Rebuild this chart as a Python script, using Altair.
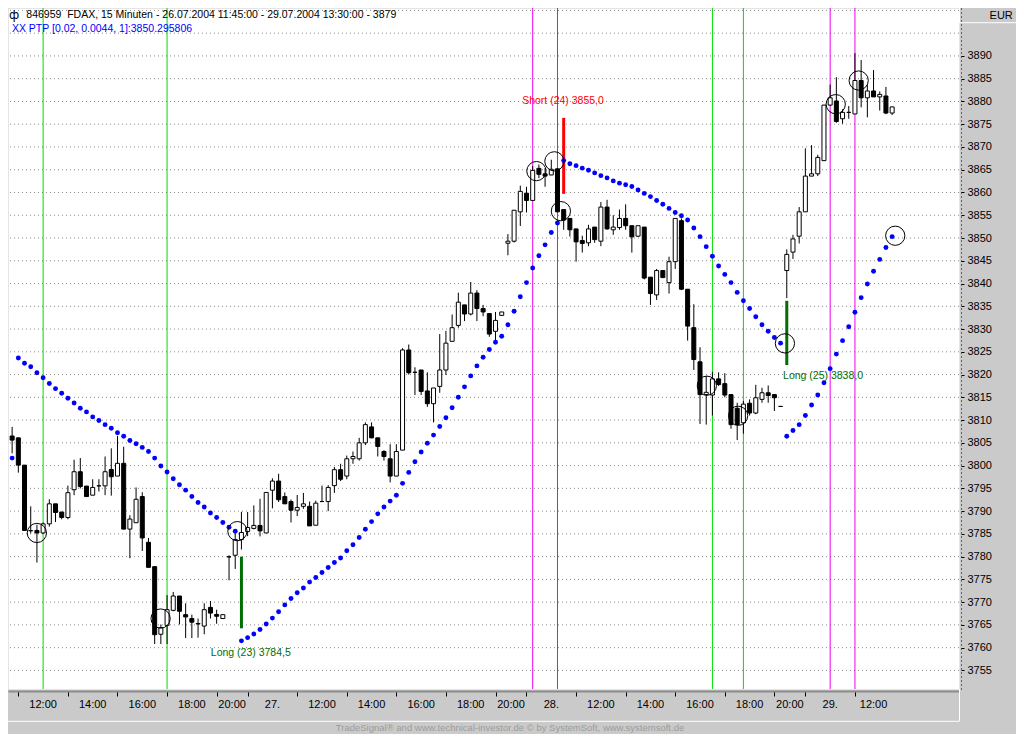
import altair as alt
import pandas as pd

FONT = "Liberation Sans"

# ---------------- data ----------------
opens = [
    3806.5, 3806.1, 3800.1, 3785.7, 3785.75, 3785.2, 3787.2, 3791.6, 3789.8, 3788.6,
    3794.7, 3798.65, 3795.5, 3793.5, 3795.55, 3795.55, 3799.15, 3797.7, 3800.5, 3786.05,
    3787.45, 3793.2, 3783.15, 3777.8, 3762.95, 3764.9, 3768.2, 3771.35, 3767.25, 3766.4,
    3765.3, 3764.75, 3768.85, 3767.3, 3766.4, 3779.95, 3780.3, 3783.75, 3785.5, 3786.2,
    3786.85, 3785.2, 3794.6, 3796.6, 3793.2, 3792.1, 3790.2, 3791.05, 3791.05, 3786.9,
    3792.1, 3792.1, 3795.6, 3799.1, 3797.7, 3801.5, 3801.5, 3805.0, 3808.5, 3806.1,
    3803.1, 3801.5, 3797.7, 3803.4, 3825.4, 3820.5, 3821.0, 3816.4, 3813.6, 3817.4,
    3821.0, 3827.3, 3830.8, 3835.3, 3833.3, 3837.9, 3834.5, 3833.4, 3829.5, 3833.0,
    3848.85, 3849.3, 3855.75, 3859.85, 3858.25, 3865.3, 3864.1, 3863.85, 3865.2, 3856.25,
    3854.3, 3852.0, 3849.45, 3848.95, 3852.4, 3849.3, 3856.8, 3851.8, 3852.3, 3854.3,
    3852.7, 3850.4, 3852.4, 3841.4, 3837.5, 3842.85, 3840.2, 3844.8, 3853.8, 3838.75,
    3830.3, 3822.8, 3815.6, 3815.5, 3819.05, 3818.0, 3815.6, 3812.6, 3809.4, 3813.7,
    3811.55, 3814.55, 3816.0, 3815.6, 3813.0, 3842.85, 3846.9, 3850.4, 3855.75, 3863.6,
    3864.1, 3867.0, 3879.2, 3880.1, 3876.2, 3877.6, 3877.25, 3884.6, 3880.8, 3882.3,
    3881.0, 3881.2, 3877.45,
]
highs = [
    3808.5, 3806.1, 3800.1, 3791.05, 3787.0, 3787.5, 3792.6, 3791.6, 3789.8, 3795.6,
    3801.3, 3801.65, 3795.5, 3797.0, 3797.0, 3802.0, 3803.8, 3806.5, 3804.15, 3789.1,
    3795.2, 3794.15, 3784.1, 3777.8, 3765.1, 3771.55, 3772.25, 3771.35, 3769.75, 3767.25,
    3766.4, 3769.75, 3770.25, 3768.35, 3767.25, 3780.3, 3785.5, 3789.85, 3789.8, 3791.25,
    3792.7, 3794.1, 3797.2, 3798.2, 3794.1, 3792.55, 3793.55, 3794.0, 3792.1, 3792.3,
    3795.6, 3795.7, 3799.7, 3800.4, 3802.2, 3803.1, 3806.1, 3809.5, 3809.5, 3806.1,
    3803.4, 3804.7, 3804.7, 3825.8, 3826.6, 3821.6, 3821.0, 3820.5, 3817.05, 3828.9,
    3829.6, 3833.2, 3838.0, 3835.3, 3840.35, 3838.55, 3835.3, 3833.4, 3833.75, 3833.75,
    3850.85, 3856.1, 3861.5, 3861.25, 3865.8, 3866.15, 3865.4, 3867.2, 3865.4, 3856.25,
    3854.3, 3852.0, 3850.5, 3852.9, 3852.4, 3857.9, 3858.4, 3855.0, 3856.25, 3857.4,
    3852.7, 3852.7, 3852.4, 3841.4, 3843.2, 3842.85, 3845.9, 3854.3, 3854.3, 3838.75,
    3835.45, 3826.0, 3819.7, 3820.6, 3820.5, 3820.3, 3815.6, 3813.8, 3814.2, 3814.55,
    3817.75, 3817.1, 3817.6, 3815.6, 3813.0, 3847.5, 3850.7, 3856.8, 3869.7, 3870.4,
    3868.3, 3879.2, 3883.7, 3885.35, 3878.3, 3879.0, 3890.6, 3889.1, 3883.7, 3886.9,
    3882.2, 3883.2, 3878.8,
]
lows = [
    3802.7, 3798.45, 3785.7, 3785.1, 3778.7, 3785.0, 3786.6, 3787.6, 3788.2, 3788.2,
    3793.5, 3795.0, 3793.2, 3793.5, 3794.3, 3793.5, 3793.4, 3797.7, 3786.0, 3779.65,
    3787.45, 3781.25, 3777.65, 3760.8, 3760.8, 3760.8, 3768.0, 3765.1, 3762.1, 3762.1,
    3762.2, 3762.95, 3766.4, 3765.25, 3766.4, 3774.8, 3777.3, 3781.55, 3784.5, 3786.0,
    3784.45, 3785.2, 3790.6, 3792.0, 3791.6, 3787.5, 3788.9, 3790.5, 3786.75, 3786.9,
    3792.1, 3790.0, 3794.0, 3796.6, 3797.0, 3800.4, 3801.1, 3804.5, 3806.0, 3802.0,
    3801.1, 3796.3, 3797.7, 3803.4, 3820.0, 3815.5, 3815.5, 3812.9, 3809.5, 3816.0,
    3819.9, 3827.3, 3830.3, 3831.75, 3833.0, 3831.75, 3832.8, 3828.3, 3827.5, 3833.0,
    3846.2, 3849.0, 3852.65, 3855.6, 3858.25, 3863.15, 3861.25, 3863.8, 3855.75, 3851.8,
    3850.3, 3844.8, 3846.8, 3848.2, 3848.95, 3848.2, 3851.8, 3850.7, 3851.8, 3851.8,
    3846.8, 3850.25, 3840.9, 3835.3, 3836.4, 3841.3, 3837.8, 3843.2, 3838.55, 3827.45,
    3821.0, 3809.15, 3809.0, 3811.0, 3817.5, 3815.0, 3808.1, 3805.6, 3807.0, 3811.0,
    3811.3, 3813.8, 3813.8, 3812.0, 3813.0, 3836.8, 3845.4, 3848.8, 3855.75, 3863.6,
    3863.6, 3867.0, 3879.0, 3875.3, 3875.1, 3876.2, 3877.25, 3878.7, 3876.5, 3881.0,
    3878.0, 3877.2, 3877.0,
]
closes = [
    3805.6, 3800.1, 3785.75, 3785.7, 3785.2, 3787.2, 3791.6, 3789.7, 3788.6, 3794.05,
    3798.65, 3795.4, 3793.2, 3795.2, 3795.55, 3798.65, 3797.55, 3800.5, 3786.05, 3788.25,
    3792.6, 3784.1, 3777.65, 3762.85, 3764.4, 3768.35, 3771.35, 3768.0, 3766.75, 3765.6,
    3765.2, 3768.35, 3767.6, 3766.9, 3767.25, 3779.95, 3783.75, 3785.3, 3786.4, 3786.85,
    3785.65, 3794.1, 3796.6, 3792.5, 3791.6, 3790.2, 3790.8, 3791.6, 3786.75, 3791.75,
    3792.1, 3795.2, 3799.1, 3797.0, 3801.5, 3802.0, 3805.0, 3809.0, 3806.1, 3804.2,
    3802.0, 3797.7, 3803.1, 3825.4, 3820.4, 3820.5, 3816.3, 3813.6, 3817.05, 3821.0,
    3826.9, 3830.3, 3835.9, 3833.3, 3837.9, 3834.5, 3833.75, 3828.9, 3831.9, 3833.75,
    3849.3, 3856.1, 3860.25, 3858.25, 3864.85, 3864.0, 3863.6, 3865.1, 3855.75, 3853.95,
    3851.8, 3849.15, 3848.8, 3852.0, 3849.65, 3856.8, 3852.0, 3852.4, 3854.3, 3852.7,
    3850.25, 3852.7, 3841.2, 3837.8, 3842.85, 3841.3, 3844.8, 3854.3, 3838.75, 3830.65,
    3823.3, 3815.6, 3816.1, 3819.05, 3817.8, 3815.5, 3809.0, 3809.0, 3813.5, 3811.55,
    3814.9, 3816.0, 3815.4, 3814.9, 3813.0, 3846.4, 3849.8, 3855.75, 3863.6, 3864.1,
    3867.7, 3879.2, 3880.8, 3875.6, 3877.6, 3877.6, 3884.6, 3880.8, 3882.3, 3881.0,
    3881.55, 3877.45, 3878.8,
]
# PTP (parabolic stop) value per bar
ptp = [
    3801.65, 3823.65, 3822.5, 3821.7, 3820.4, 3819.3, 3818.05, 3816.9, 3815.9, 3814.8,
    3813.75, 3812.6, 3811.8, 3810.7, 3809.9, 3809.0, 3808.2, 3807.2, 3806.45, 3805.5,
    3804.8, 3804.0, 3803.1, 3801.65, 3799.9, 3798.6, 3797.1, 3795.8, 3794.6, 3793.2,
    3791.9, 3790.9, 3789.6, 3788.6, 3787.5, 3786.45, 3785.6, 3761.5, 3762.2, 3763.0,
    3764.0, 3765.2, 3766.5, 3767.9, 3769.4, 3770.8, 3772.05, 3773.1, 3774.4, 3775.4,
    3776.5, 3777.6, 3778.7, 3779.7, 3781.3, 3782.6, 3784.2, 3786.0, 3787.7, 3789.4,
    3790.9, 3792.2, 3793.5, 3796.1, 3798.5, 3800.85, 3803.0, 3804.9, 3806.7, 3808.6,
    3810.5, 3812.7, 3815.0, 3817.3, 3819.7, 3821.9, 3823.8, 3825.5, 3827.1, 3828.4,
    3830.95, 3833.9, 3837.1, 3840.2, 3843.4, 3846.1, 3848.5, 3851.2, 3853.3, 3867.0,
    3866.3, 3865.9, 3865.35, 3864.9, 3864.3, 3863.7, 3863.2, 3862.55, 3862.05, 3861.7,
    3861.3, 3860.55, 3859.8, 3859.1, 3858.25, 3857.4, 3856.5, 3855.6, 3854.9, 3853.95,
    3852.2, 3850.3, 3848.1, 3846.0, 3843.85, 3842.0, 3840.2, 3838.05, 3836.2, 3834.5,
    3832.7, 3830.95, 3829.5, 3828.15, 3826.9, 3806.45, 3807.7, 3809.0, 3811.0, 3813.3,
    3815.5, 3818.2, 3821.3, 3824.5, 3827.45, 3830.5, 3833.7, 3836.9, 3839.9, 3842.7,
    3845.3, 3847.9, 3850.3,
]

grid_levels = list(range(3755, 3905, 5))
axis_levels = list(range(3755, 3895, 5))

tick_bars = [1, 9, 17, 25, 33, 38, 46, 54, 62, 70, 78, 83, 91, 99, 107, 115, 123, 128, 136]
tick_labels = ["12:00", "14:00", "16:00", "18:00", "20:00", "27.",
               "12:00", "14:00", "16:00", "18:00", "20:00", "28.",
               "12:00", "14:00", "16:00", "18:00", "20:00", "29.", "12:00"]

green_line_bars = [5, 25, 113, 118]
magenta_line_bars = [84, 88, 132, 136]

circle_bars = [3.99, 23.96, 36.35, 84.6, 87.5, 88.55, 112.1, 117.15, 124.7, 132.9, 136.6, 142.5]
circle_values = [3785.2, 3766.4, 3785.6, 3864.7, 3866.85, 3855.9, 3817.55, 3810.95,
                 3826.85, 3879.4, 3884.6, 3850.5]

signal_bars = [37, 89, 125]
signal_kinds = ["Long", "Short", "Long"]
signal_from = [3780.0, 3876.4, 3836.2]
signal_to = [3764.25, 3859.7, 3822.1]
signal_texts = ["Long (23) 3784,5", "Short (24) 3855,0", "Long (25) 3838,0"]
signal_text_bars = [32.06, 82.3, 124.4]
signal_text_values = [3758.9, 3880.05, 3819.7]

header_line1 = "846959\u00a0 FDAX, 15 Minuten - 26.07.2004 11:45:00 - 29.07.2004 13:30:00 - 3879"
header_line2 = "XX PTP [0.02, 0.0044, 1]:3850.295806"
credit = "TradeSignal\u00ae and www.technical-investor.de \u00a9 by SystemSoft, www.systemsoft.de"

# ---------------- tables ----------------
n = len(closes)
candles = pd.DataFrame({"bar": list(range(n)), "open": opens, "high": highs,
                        "low": lows, "close": closes})
candles["dir"] = ["up" if c >= o else "down" for o, c in zip(opens, closes)]
ptp_df = pd.DataFrame({"bar": list(range(len(ptp))), "v": ptp})
grid_df = pd.DataFrame({"v": grid_levels})
mids = [(tick_bars[i] + tick_bars[i + 1]) / 2 for i in range(len(tick_bars) - 1)]
mids.append((tick_bars[-1] + n - 1) / 2)
xlab_df = pd.DataFrame({"bar": mids, "label": tick_labels})
green_df = pd.DataFrame({"bar": green_line_bars})
magenta_df = pd.DataFrame({"bar": magenta_line_bars})
circ_df = pd.DataFrame({"bar": circle_bars, "v": circle_values})
sig_df = pd.DataFrame({"bar": signal_bars, "kind": signal_kinds, "v": signal_from,
                       "v2": signal_to})
sigtxt_df = pd.DataFrame({"bar": signal_text_bars, "v": signal_text_values,
                          "kind": signal_kinds, "text": signal_texts})
one = pd.DataFrame({"k": [0]})

# ---------------- layout (page 1024x742 minus 8px margins) ----------------
W, H = 951, 681
PR, PB = 57, 45
x_scale = alt.Scale(domain=[-0.667, 152.79], nice=False, zero=False, padding=0)
y_scale = alt.Scale(domain=[3750.92, 3900.53], nice=False, zero=False, padding=0)
sig_color = alt.Scale(domain=["Long", "Short"], range=["#006e00", "#ff0000"])

x_axis = alt.Axis(values=tick_bars, labels=False, ticks=True, tickSize=5, tickColor="black",
                  tickWidth=1, domain=True, domainColor="#8c8c8c", domainWidth=2, offset=2,
                  grid=False, title=None)
y_axis = alt.Axis(orient="right", values=axis_levels, format="d", tickSize=3,
                  tickColor="black", domain=True, domainDash=[1, 3], domainColor="black",
                  offset=2, labelPadding=3, labelFontSize=11, labelFont=FONT,
                  labelColor="black", grid=False, title=None, labelAlign="left",
                  labelBaseline="middle", labelOverlap=False)


def X(field="bar"):
    return alt.X(field, type="quantitative", scale=x_scale, axis=x_axis)


def Y(field="v"):
    return alt.Y(field, type="quantitative", scale=y_scale, axis=y_axis)


grid = alt.Chart(grid_df).mark_rule(color="#8a8a8a", strokeDash=[1, 3], strokeWidth=1).encode(
    y=Y("v"))

green_lines = alt.Chart(green_df).mark_rule(color="#00dd00", strokeWidth=1).encode(x=X())
magenta_lines = alt.Chart(magenta_df).mark_rule(color="#ee00ee", strokeWidth=1).encode(x=X())

wicks = alt.Chart(candles).mark_rule(color="black", strokeWidth=1).encode(
    x=X(), y=Y("low"), y2="high:Q")

bodies = alt.Chart(candles).mark_bar(size=4, stroke="black", strokeWidth=1).encode(
    x=X(), y=Y("open"), y2="close:Q",
    fill=alt.Fill("dir:N", scale=alt.Scale(domain=["up", "down"], range=["white", "black"]),
                  legend=None))

sig_bars = alt.Chart(sig_df).mark_rule(strokeWidth=3).encode(
    x=X(), y=Y("v"), y2="v2:Q",
    color=alt.Color("kind:N", scale=sig_color, legend=None))

dots = alt.Chart(ptp_df).mark_circle(size=24, color="#0000ff", opacity=1).encode(x=X(), y=Y())

circles = alt.Chart(circ_df).mark_point(shape="circle", filled=False, size=370, color="black",
                                        strokeWidth=1, opacity=1).encode(x=X(), y=Y())

sig_text = alt.Chart(sigtxt_df).mark_text(align="left", baseline="middle", fontSize=10.5,
                                          font=FONT).encode(
    x=X(), y=Y(), text="text:N",
    color=alt.Color("kind:N", scale=sig_color, legend=None))

xlabels = alt.Chart(xlab_df).mark_text(align="center", baseline="middle", fontSize=11,
                                       font=FONT, color="black").encode(
    x=X(), y=alt.value(697.3), text="label:N")

deco = alt.Chart(one)
head_icon = deco.mark_text(text="\u0444", align="center", baseline="middle", fontSize=12,
                           font="DejaVu Sans", color="black").encode(
    x=alt.value(6), y=alt.value(7))
head1 = deco.mark_text(text=header_line1, align="left", baseline="middle", fontSize=10.5,
                       font=FONT, color="black").encode(x=alt.value(18.3), y=alt.value(7.0))
head2 = deco.mark_text(text=header_line2, align="left", baseline="middle", fontSize=10.5,
                       font=FONT, color="#0000ff").encode(x=alt.value(3.9), y=alt.value(21.0))
eur = deco.mark_text(text="EUR", align="right", baseline="middle", fontSize=11,
                     font=FONT, color="black").encode(x=alt.value(1004.8), y=alt.value(8.0))
credit_t = deco.mark_text(text=credit, align="center", baseline="middle", fontSize=9.5,
                          font=FONT, color="#9c9c9c").encode(x=alt.value(502), y=alt.value(719.8))

edge1 = deco.mark_rule(color="white", strokeWidth=1).encode(
    x=alt.value(W), x2=alt.value(W + PR), y=alt.value(14.7))
edge2 = deco.mark_rule(color="white", strokeWidth=1).encode(
    x=alt.value(W + 0.5), y=alt.value(0), y2=alt.value(14.7))
edge3 = deco.mark_rule(color="white", strokeWidth=1).encode(
    x=alt.value(0), x2=alt.value(W), y=alt.value(713.3))
edge4 = deco.mark_rule(color="white", strokeWidth=1).encode(
    x=alt.value(W + 0.5), y=alt.value(H), y2=alt.value(713.3))

chart = alt.layer(
    grid, green_lines, magenta_lines, wicks, bodies, sig_bars, dots, circles, sig_text,
    xlabels, head_icon, head1, head2, eur, credit_t, edge1, edge2, edge3, edge4,
).properties(
    width=W, height=H, background="#cacaca",
    padding={"left": 0, "top": 0, "right": PR, "bottom": PB},
    autosize=alt.AutoSizeParams(type="none"),
).configure_view(fill="white", stroke="transparent")

chart.save("out.html", embed_options={"renderer": "svg", "actions": False})
